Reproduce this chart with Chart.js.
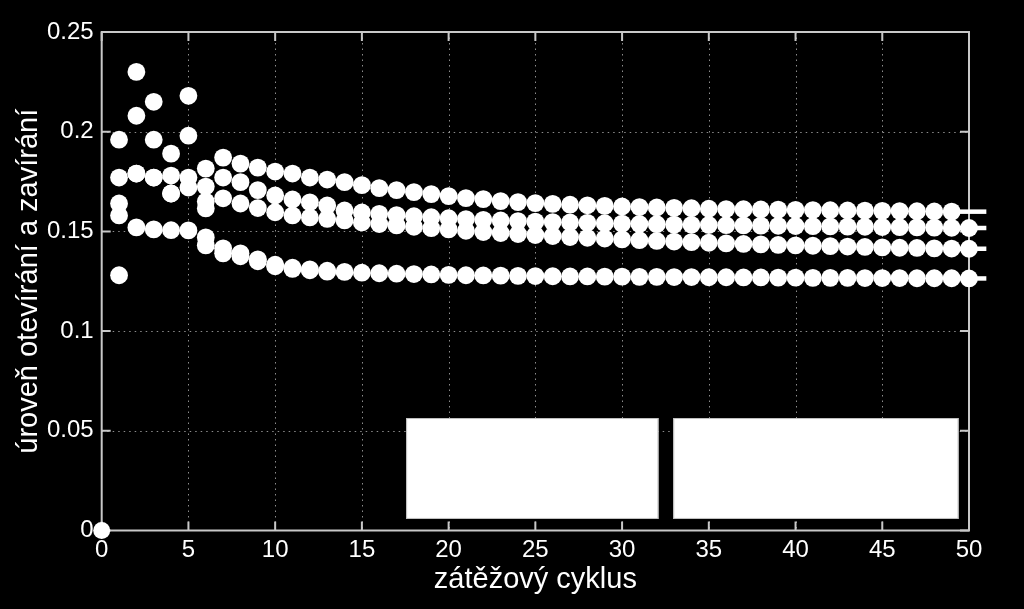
<!DOCTYPE html>
<html>
<head>
<meta charset="utf-8">
<script src="https://cdn.jsdelivr.net/npm/chart.js@4/dist/chart.umd.min.js"></script>
<style>
  html, body { margin: 0; padding: 0; background: #000; }
  canvas { display: block; }
</style>
</head>
<body>
<canvas id="chart" width="1024" height="609"></canvas>
<script>
// zátěžový cyklus 1..50
const cycles = [1, 2, 3, 4, 5, 6, 7, 8, 9, 10, 11, 12, 13, 14, 15, 16, 17, 18, 19, 20,
  21, 22, 23, 24, 25, 26, 27, 28, 29, 30, 31, 32, 33, 34, 35, 36, 37, 38, 39, 40,
  41, 42, 43, 44, 45, 46, 47, 48, 49, 50];

// horní řada (končí cyklem 49)
const seriesA = [0.196, 0.230, 0.215, 0.189, 0.218, 0.1815, 0.187, 0.184, 0.182, 0.180,
  0.179, 0.177, 0.176, 0.1747, 0.1732, 0.1717, 0.1707, 0.1697, 0.1687, 0.1677,
  0.1667, 0.1662, 0.1652, 0.1647, 0.1642, 0.1638, 0.1634, 0.1631, 0.1628, 0.1625,
  0.1622, 0.1620, 0.1618, 0.1616, 0.1614, 0.1612, 0.1611, 0.1610, 0.1609, 0.1608,
  0.1607, 0.1606, 0.1605, 0.1604, 0.1603, 0.1602, 0.1601, 0.1600, 0.1599];

const seriesB = [0.177, 0.208, 0.196, 0.178, 0.198, 0.1725, 0.177, 0.1747, 0.1707, 0.168,
  0.166, 0.1646, 0.163, 0.1605, 0.1595, 0.1588, 0.1582, 0.1576, 0.1571, 0.1566,
  0.1562, 0.1558, 0.1555, 0.1552, 0.1549, 0.1547, 0.1545, 0.1543, 0.1541, 0.1539,
  0.1537, 0.1536, 0.1534, 0.1533, 0.1532, 0.1531, 0.1530, 0.1529, 0.1528, 0.1527,
  0.1526, 0.1525, 0.1524, 0.1523, 0.1522, 0.1521, 0.1520, 0.1519, 0.1518, 0.1517];

const seriesC = [0.164, 0.179, 0.177, 0.169, 0.177, 0.165, 0.1666, 0.164, 0.1617, 0.1596,
  0.158, 0.157, 0.1563, 0.1555, 0.1545, 0.1537, 0.1530, 0.1523, 0.1516, 0.1510,
  0.1503, 0.1497, 0.1492, 0.1487, 0.1482, 0.1477, 0.1472, 0.1468, 0.1464, 0.1460,
  0.1456, 0.1452, 0.1449, 0.1446, 0.1443, 0.1440, 0.1437, 0.1435, 0.1432, 0.1430,
  0.1428, 0.1426, 0.1424, 0.1422, 0.1420, 0.1418, 0.1417, 0.1415, 0.1414, 0.1413];

const seriesD = [0.128, 0.152, 0.151, 0.1506, 0.1505, 0.147, 0.1415, 0.139, 0.136, 0.1333,
  0.1318, 0.131, 0.1303, 0.1297, 0.1293, 0.129, 0.1288, 0.1286, 0.1284, 0.1282,
  0.128, 0.1279, 0.1278, 0.1277, 0.1276, 0.1275, 0.1274, 0.1274, 0.1273, 0.1273,
  0.1272, 0.1272, 0.1271, 0.1271, 0.1270, 0.1270, 0.1269, 0.1269, 0.1268, 0.1268,
  0.1267, 0.1267, 0.1267, 0.1266, 0.1266, 0.1266, 0.1265, 0.1265, 0.1265, 0.1264];

// krátké doplňkové řady na začátku
const cyclesE = [1, 2, 3, 4, 5, 6];
const seriesE = [0.158, 0.179, 0.177, 0.169, 0.172, 0.1615];
const cyclesF = [6, 7, 8, 9, 10, 11, 12, 13];
const seriesF = [0.143, 0.139, 0.1375, 0.135, 0.1325, 0.1312, 0.1305, 0.1298];

const originX = [0];
const originY = [0];

const yTicks = [0, 0.05, 0.1, 0.15, 0.2, 0.25];
const xTicks = [0, 5, 10, 15, 20, 25, 30, 35, 40, 45, 50];

const FONT = 'Liberation Sans, Arial, Helvetica, sans-serif';

function toPoints(xs, ys) {
  return ys.map((v, i) => ({ x: xs[i], y: v }));
}

const dotStyle = {
  backgroundColor: '#ffffff',
  borderWidth: 0,
  pointRadius: 8.9,
  pointHoverRadius: 8.9,
  clip: false
};

// frame, dotted grid and inward ticks in the MATLAB manner
const framePlugin = {
  id: 'frame',
  beforeDatasetsDraw(chart) {
    const { ctx, chartArea: a, scales: { x, y } } = chart;
    ctx.save();
    ctx.strokeStyle = 'rgba(255,255,255,0.55)';
    ctx.lineWidth = 1;
    ctx.setLineDash([1.5, 4]);
    xTicks.slice(1, -1).forEach(t => {
      const px = Math.round(x.getPixelForValue(t)) + 0.5;
      ctx.beginPath(); ctx.moveTo(px, a.top); ctx.lineTo(px, a.bottom); ctx.stroke();
    });
    yTicks.slice(1, -1).forEach(t => {
      const py = Math.round(y.getPixelForValue(t)) + 0.5;
      ctx.beginPath(); ctx.moveTo(a.left, py); ctx.lineTo(a.right, py); ctx.stroke();
    });
    ctx.setLineDash([]);
    ctx.strokeStyle = '#c8c8c8';
    ctx.lineWidth = 2;
    ctx.strokeRect(a.left, a.top, a.right - a.left, a.bottom - a.top);
    const tl = 9;
    xTicks.forEach(t => {
      const px = x.getPixelForValue(t);
      ctx.beginPath();
      ctx.moveTo(px, a.bottom); ctx.lineTo(px, a.bottom - tl);
      ctx.moveTo(px, a.top); ctx.lineTo(px, a.top + tl);
      ctx.stroke();
    });
    yTicks.forEach(t => {
      const py = y.getPixelForValue(t);
      ctx.beginPath();
      ctx.moveTo(a.left, py); ctx.lineTo(a.left + tl, py);
      ctx.moveTo(a.right, py); ctx.lineTo(a.right - tl, py);
      ctx.stroke();
    });
    ctx.restore();
  },
  afterDatasetsDraw(chart) {
    const { ctx, scales: { x, y } } = chart;
    ctx.save();
    // line stubs past the right edge at each row's last value
    ctx.strokeStyle = '#ffffff';
    ctx.lineWidth = 4.5;
    [seriesA, seriesB, seriesC, seriesD].forEach(s => {
      const py = y.getPixelForValue(s[s.length - 1]);
      ctx.beginPath();
      ctx.moveTo(x.getPixelForValue(49.45), py);
      ctx.lineTo(x.getPixelForValue(51), py);
      ctx.stroke();
    });
    // two blank white boxes at the bottom
    ctx.fillStyle = '#ffffff';
    ctx.strokeStyle = '#bdbdbd';
    ctx.lineWidth = 1;
    [[17.55, 32.1], [32.95, 49.4]].forEach(([x0, x1]) => {
      const l = x.getPixelForValue(x0), r = x.getPixelForValue(x1);
      const t = y.getPixelForValue(0.0564), b = y.getPixelForValue(0.0058);
      ctx.fillRect(l, t, r - l, b - t);
      ctx.strokeRect(l + 0.5, t + 0.5, r - l - 1, b - t - 1);
    });
    ctx.restore();
  }
};

new Chart(document.getElementById('chart'), {
  type: 'scatter',
  data: {
    datasets: [
      { data: toPoints(cycles, seriesA), ...dotStyle },
      { data: toPoints(cycles, seriesB), ...dotStyle },
      { data: toPoints(cycles, seriesC), ...dotStyle },
      { data: toPoints(cycles, seriesD), ...dotStyle },
      { data: toPoints(cyclesE, seriesE), ...dotStyle },
      { data: toPoints(cyclesF, seriesF), ...dotStyle },
      { data: toPoints(originX, originY), ...dotStyle, pointRadius: 8.5 }
    ]
  },
  options: {
    responsive: false,
    animation: false,
    layout: { padding: { top: 32, right: 55, left: 0, bottom: 0 } },
    plugins: { legend: { display: false }, tooltip: { enabled: false } },
    scales: {
      x: {
        type: 'linear', min: 0, max: 50,
        ticks: { stepSize: 5, color: '#ffffff', font: { family: FONT, size: 24 }, padding: 5, maxRotation: 0 },
        grid: { display: false, drawTicks: false },
        border: { display: false },
        title: { display: true, text: 'zátěžový cyklus', color: '#ffffff',
          font: { family: FONT, size: 29 }, padding: { top: 0, bottom: 12 } },
        afterFit: s => { s.height = 78.5; }
      },
      y: {
        type: 'linear', min: 0, max: 0.25,
        ticks: { stepSize: 0.05, color: '#ffffff', font: { family: FONT, size: 24 }, padding: 8,
          callback: v => String(+v.toFixed(2)) },
        grid: { display: false, drawTicks: false },
        border: { display: false },
        title: { display: true, text: 'úroveň otevírání a zavírání', color: '#ffffff',
          font: { family: FONT, size: 29 }, padding: { top: 12, bottom: 0 } },
        afterFit: s => { s.width = 101.7; }
      }
    }
  },
  plugins: [framePlugin]
});
</script>
</body>
</html>
